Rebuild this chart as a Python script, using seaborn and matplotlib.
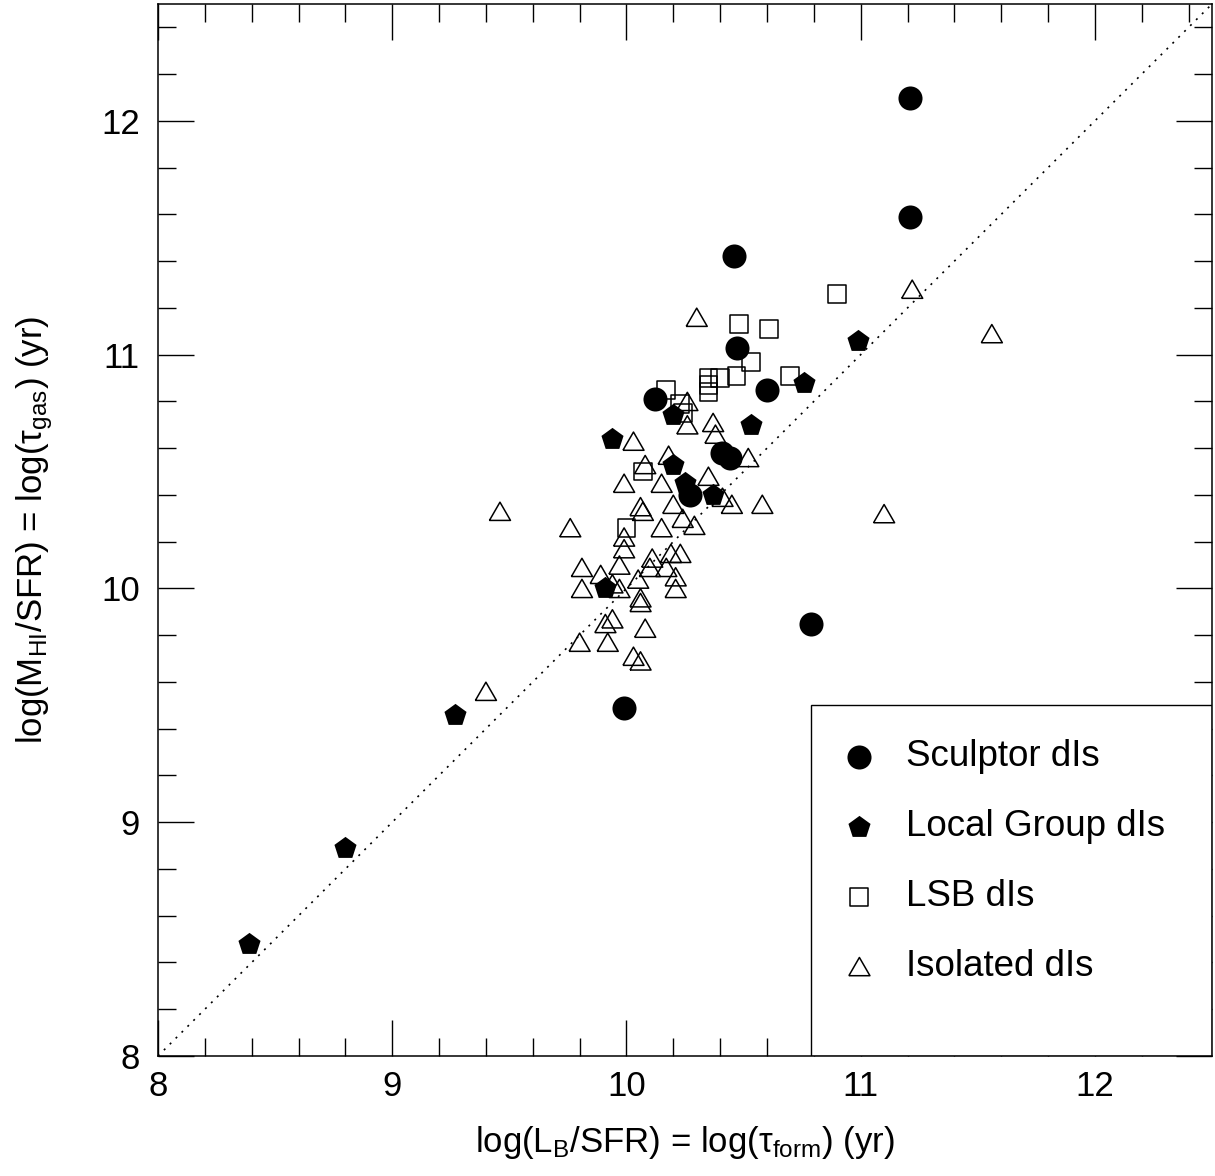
import matplotlib
matplotlib.use("Agg")
import matplotlib.pyplot as plt
from matplotlib.patches import Rectangle
from matplotlib.ticker import MultipleLocator
import seaborn as sns

# Sculptor group dwarf irregulars
sculptor_x = [11.21, 11.21, 10.46, 10.47, 10.60, 10.12, 10.41, 10.44, 10.27, 10.79, 9.99]
sculptor_y = [12.10, 11.59, 11.42, 11.03, 10.85, 10.81, 10.58, 10.56, 10.40, 9.85, 9.49]

# Local Group dwarf irregulars
local_x = [8.39, 8.80, 9.27, 9.91, 9.94, 10.20, 10.20, 10.25, 10.37, 10.53, 10.76, 10.99]
local_y = [8.48, 8.89, 9.46, 10.00, 10.64, 10.74, 10.53, 10.45, 10.40, 10.70, 10.88, 11.06]

# Low surface brightness dwarf irregulars
lsb_x = [10.48, 10.61, 10.53, 10.47, 10.40, 10.35, 10.35, 10.35, 10.17, 10.23, 10.24,
         10.70, 10.90, 10.07, 10.00]
lsb_y = [11.13, 11.11, 10.97, 10.91, 10.90, 10.90, 10.87, 10.84, 10.85, 10.79, 10.75,
         10.91, 11.26, 10.50, 10.26]

# Isolated dwarf irregulars
iso_x = [11.22, 11.56, 11.10, 9.46, 9.40, 10.30, 10.26, 10.26, 10.37, 10.38,
         10.03, 10.18, 10.08, 10.35, 10.52, 10.15, 9.99, 10.41, 10.45, 10.58,
         10.20, 10.06, 10.07, 10.24, 10.29, 10.15, 9.76, 9.99, 9.99, 9.97,
         9.81, 10.19, 10.23, 10.11, 10.10, 10.17, 9.89, 9.94, 9.97, 9.81,
         10.05, 10.06, 10.06, 10.21, 10.21, 9.94, 9.91, 10.08, 9.80, 9.92,
         10.03, 10.06]
iso_y = [11.28, 11.09, 10.32, 10.33, 9.56, 11.16, 10.80, 10.70, 10.71, 10.66,
         10.63, 10.57, 10.53, 10.48, 10.56, 10.45, 10.45, 10.39, 10.36, 10.36,
         10.36, 10.35, 10.33, 10.30, 10.27, 10.26, 10.26, 10.22, 10.17, 10.10,
         10.09, 10.15, 10.15, 10.13, 10.09, 10.09, 10.06, 10.02, 10.00, 10.00,
         10.04, 9.96, 9.94, 10.05, 10.00, 9.87, 9.85, 9.83, 9.77, 9.77,
         9.71, 9.69]

sns.set_style("ticks")
plt.rcParams["font.family"] = ["Liberation Sans", "DejaVu Sans"]
plt.rcParams["mathtext.fontset"] = "custom"
plt.rcParams["mathtext.rm"] = "Liberation Sans"
plt.rcParams["mathtext.it"] = "Liberation Sans:italic"
for key in ("text.color", "axes.labelcolor", "xtick.color", "ytick.color",
            "axes.edgecolor"):
    plt.rcParams[key] = "black"

fig = plt.figure(figsize=(12.15, 11.76), dpi=100)
ax = fig.add_axes([158 / 1215, 1 - 1056 / 1176, (1212 - 158) / 1215, (1056 - 4) / 1176])

# one-to-one reference line
ax.axline((8, 8), slope=1, color="black", lw=1.2, ls=(0, (1.2, 3.8)), zorder=1)

# equilateral open triangle
tri = [(-1, -0.866), (1, -0.866), (0, 0.866), (-1, -0.866)]

sns.scatterplot(x=sculptor_x, y=sculptor_y, marker="o", s=300, color="black",
                edgecolor="black", linewidth=0, label="Sculptor dIs", ax=ax, zorder=4)
sns.scatterplot(x=local_x, y=local_y, marker="p", s=280, color="black",
                edgecolor="black", linewidth=0, label="Local Group dIs", ax=ax, zorder=4)
sns.scatterplot(x=lsb_x, y=lsb_y, marker="s", s=165, facecolor="none",
                edgecolor="black", linewidth=1.1, label="LSB dIs", ax=ax, zorder=3)
sns.scatterplot(x=iso_x, y=iso_y, marker=tri, s=230, facecolor="none",
                edgecolor="black", linewidth=1.1, label="Isolated dIs", ax=ax, zorder=3)

ax.set_xlim(8, 12.5)
ax.set_ylim(8, 12.5)
ax.xaxis.set_major_locator(MultipleLocator(1))
ax.yaxis.set_major_locator(MultipleLocator(1))
ax.xaxis.set_minor_locator(MultipleLocator(0.2))
ax.yaxis.set_minor_locator(MultipleLocator(0.2))
ax.tick_params(which="both", direction="in", top=True, right=True, color="black",
               width=1.0)
ax.tick_params(which="major", length=26, labelsize=25)
ax.tick_params(which="minor", length=13)
ax.tick_params(axis="x", which="major", pad=10)
ax.tick_params(axis="y", which="major", pad=13)
for sp in ax.spines.values():
    sp.set_linewidth(1.1)
    sp.set_color("black")

ax.set_xlabel(r"log(L$_{\rm B}$/SFR) = log(τ$_{\rm form}$) (yr)", fontsize=25, labelpad=15)
ax.set_ylabel(r"log(M$_{\rm HI}$/SFR) = log(τ$_{\rm gas}$) (yr)", fontsize=25, labelpad=33)

# legend panel in the lower right corner
ax.add_patch(Rectangle((10.79, 8.0), 1.71, 1.50, facecolor="white", edgecolor="black",
                       linewidth=1.0, zorder=1.5))
ax.legend(loc="upper left", bbox_to_anchor=(0.648, 0.301), frameon=False, fontsize=26.5,
          borderpad=0, borderaxespad=0, handlelength=1.0, handletextpad=0.76,
          labelspacing=0.95)

fig.savefig("out.png", dpi=100)
